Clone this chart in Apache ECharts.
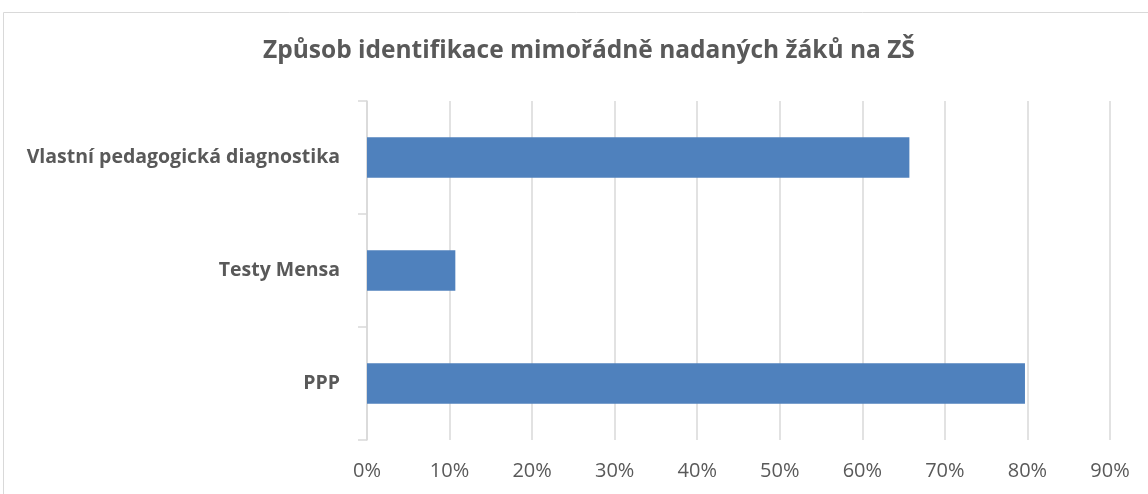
<!DOCTYPE html>
<html>
<head>
<meta charset="utf-8">
<script src="https://cdn.jsdelivr.net/npm/echarts@6/dist/echarts.min.js"></script>
<style>
  html, body { margin: 0; padding: 0; background: #fff; }
  #main { width: 1148px; height: 494px; }
</style>
</head>
<body>
<div id="main"></div>
<script>
// data
var categories = ['PPP', 'Testy Mensa', 'Vlastní pedagogická diagnostika'];
var percents = [79.7, 10.7, 65.7];
var chartTitle = 'Způsob identifikace mimořádně nadaných žáků na ZŠ';

var myChart = echarts.init(document.getElementById('main'));
myChart.setOption({
  animation: false,
  textStyle: { fontFamily: 'Open Sans' },
  title: {
    text: chartTitle,
    left: 258,
    top: 34,
    textStyle: {
      fontFamily: 'Open Sans',
      fontSize: 24.5,
      fontWeight: 'bold',
      color: '#595959'
    }
  },
  graphic: [{
    type: 'rect',
    shape: { x: 3.5, y: 12.5, width: 1160, height: 500 },
    style: { fill: 'none', stroke: '#d9d9d9', lineWidth: 1 },
    silent: true
  }],
  grid: {
    left: 367,
    right: 38,
    top: 101,
    bottom: 54
  },
  xAxis: {
    type: 'value',
    min: 0,
    max: 90,
    interval: 10,
    axisLine: { show: false },
    axisTick: { show: false },
    axisLabel: {
      formatter: '{value}%',
      color: '#595959',
      fontSize: 20,
      margin: 21
    },
    splitLine: { lineStyle: { color: '#d9d9d9', width: 1.5 } }
  },
  yAxis: {
    type: 'category',
    data: categories,
    axisLine: { lineStyle: { color: '#d9d9d9', width: 1.5 } },
    axisTick: { show: true, length: 9, lineStyle: { color: '#d9d9d9', width: 1.5 } },
    axisLabel: {
      color: '#595959',
      fontSize: 19.5,
      fontWeight: 'bold',
      margin: 27
    }
  },
  series: [{
    name: chartTitle,
    type: 'bar',
    data: percents,
    barCategoryGap: '64%',
    itemStyle: { color: '#4f81bd' }
  }]
});
</script>
</body>
</html>
